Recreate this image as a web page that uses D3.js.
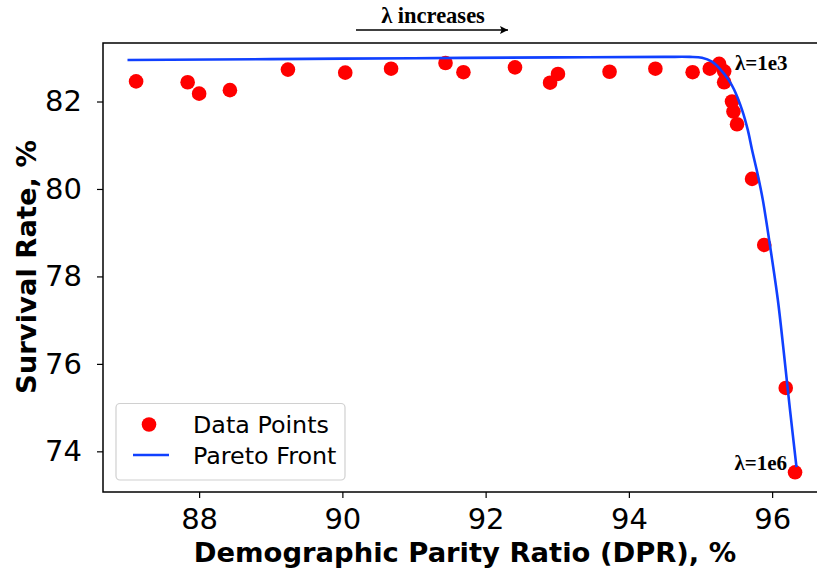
<!DOCTYPE html>
<html>
<head>
<meta charset="utf-8">
<script src="https://cdn.jsdelivr.net/npm/d3@7"></script>
<style>
  body { margin: 0; background: #fff; }
  svg { display: block; }
</style>
</head>
<body>
<div id="chart"></div>
<script>
// Data
const dprValues = [87.12, 87.84, 88.00, 88.43, 89.24, 90.04, 90.68, 91.44, 91.69, 92.41, 92.90, 93.01,
    93.73, 94.37, 94.89, 95.13, 95.26, 95.33, 95.33, 95.44, 95.46, 95.51, 95.72, 95.89, 96.19, 96.32];
const survivalValues = [82.46, 82.44, 82.18, 82.26, 82.73, 82.66, 82.75, 82.88, 82.67, 82.78, 82.43, 82.63,
    82.68, 82.75, 82.67, 82.75, 82.86, 82.69, 82.44, 82.00, 81.77, 81.48, 80.23, 78.72, 75.45, 73.52];

const paretoDpr = [87.0, 89.0, 91.0, 93.0, 94.5, 94.85, 95.02, 95.16, 95.28, 95.39, 95.47, 95.58, 95.66,
    95.72, 95.80, 95.87, 95.98, 96.08, 96.16, 96.25, 96.34];
const paretoSurvival = [82.95, 82.97, 82.99, 83.01, 83.02, 83.02, 83.0, 82.91, 82.73, 82.50, 82.27, 81.81, 81.35,
    80.89, 80.32, 79.75, 78.60, 77.46, 76.31, 74.94, 73.64];

const xTicks = [88, 90, 92, 94, 96];
const yTicks = [74, 76, 78, 80, 82];

const width = 817, height = 579;
const margin = { top: 43, right: -11, bottom: 87, left: 103 };

const svg = d3.select("#chart").append("svg")
    .attr("width", width)
    .attr("height", height)
    .style("font-family", "'DejaVu Sans', sans-serif");

const x = d3.scaleLinear()
    .domain([86.658, 96.78])
    .range([margin.left, width - margin.right]);

const y = d3.scaleLinear()
    .domain([73.07, 83.338])
    .range([height - margin.bottom, margin.top]);

// Axes
const xAxis = svg.append("g")
    .attr("transform", `translate(0,${height - margin.bottom})`)
    .call(d3.axisBottom(x).tickValues(xTicks).tickSize(6).tickPadding(6).tickSizeOuter(0));

const yAxis = svg.append("g")
    .attr("transform", `translate(${margin.left},0)`)
    .call(d3.axisLeft(y).tickValues(yTicks).tickSize(6).tickPadding(15).tickSizeOuter(0));

[xAxis, yAxis].forEach(a => {
    a.selectAll("text")
        .style("font-family", "'DejaVu Sans', sans-serif")
        .style("font-size", "29px")
        .attr("fill", "#000");
    a.selectAll("line").attr("stroke", "#000").attr("stroke-width", 1.2);
    a.select(".domain").remove();
});
xAxis.selectAll("text").attr("dy", "0.85em");

// frame (left, top, bottom; right side falls outside the picture)
svg.append("rect")
    .attr("x", margin.left)
    .attr("y", margin.top)
    .attr("width", width - margin.right - margin.left)
    .attr("height", height - margin.bottom - margin.top)
    .attr("fill", "none")
    .attr("stroke", "#000")
    .attr("stroke-width", 1.5);

// Points
svg.append("g")
    .selectAll("circle")
    .data(dprValues.map((d, i) => [d, survivalValues[i]]))
    .join("circle")
    .attr("cx", d => x(d[0]))
    .attr("cy", d => y(d[1]))
    .attr("r", 7.3)
    .attr("fill", "#ff0000");

// Pareto front
const line = d3.line()
    .x(d => x(d[0]))
    .y(d => y(d[1]))
    .curve(d3.curveCatmullRom.alpha(0.5));

svg.append("path")
    .datum(paretoDpr.map((d, i) => [d, paretoSurvival[i]]))
    .attr("d", line)
    .attr("fill", "none")
    .attr("stroke", "#1040ff")
    .attr("stroke-width", 2.6);

// Axis labels
svg.append("text")
    .attr("x", 465)
    .attr("y", 562)
    .attr("text-anchor", "middle")
    .style("font-size", "27.4px")
    .style("font-weight", "bold")
    .text("Demographic Parity Ratio (DPR), %");

svg.append("text")
    .attr("transform", "translate(36,267) rotate(-90)")
    .attr("text-anchor", "middle")
    .style("font-size", "27.4px")
    .style("font-weight", "bold")
    .text("Survival Rate, %");

// Annotations
const serif = "'Liberation Serif', 'Times New Roman', serif";

svg.append("text")
    .attr("x", 433)
    .attr("y", 23)
    .attr("text-anchor", "middle")
    .style("font-family", serif)
    .style("font-weight", "bold")
    .style("font-size", "22.5px")
    .text("λ increases");

svg.append("defs").append("marker")
    .attr("id", "arrow")
    .attr("viewBox", "0 0 10 10")
    .attr("refX", 10)
    .attr("refY", 5)
    .attr("markerWidth", 11)
    .attr("markerHeight", 8)
    .attr("markerUnits", "userSpaceOnUse")
    .attr("orient", "auto")
    .append("path")
    .attr("d", "M0,0 L10,5 L0,10 L2,5 Z")
    .attr("fill", "#000");

svg.append("line")
    .attr("x1", 356)
    .attr("x2", 508)
    .attr("y1", 30)
    .attr("y2", 30)
    .attr("stroke", "#000")
    .attr("stroke-width", 1.4)
    .attr("marker-end", "url(#arrow)");

svg.append("text")
    .attr("x", 735)
    .attr("y", 69.5)
    .style("font-family", serif)
    .style("font-weight", "bold")
    .style("font-size", "21px")
    .text("λ=1e3");

svg.append("text")
    .attr("x", 787)
    .attr("y", 470)
    .attr("text-anchor", "end")
    .style("font-family", serif)
    .style("font-weight", "bold")
    .style("font-size", "21px")
    .text("λ=1e6");

// Legend
const legend = svg.append("g");
legend.append("rect")
    .attr("x", 116)
    .attr("y", 403.5)
    .attr("width", 229)
    .attr("height", 76.5)
    .attr("rx", 4)
    .attr("fill", "#fff")
    .attr("fill-opacity", 0.8)
    .attr("stroke", "#d0d0d0")
    .attr("stroke-width", 1.2);

legend.append("circle")
    .attr("cx", 149)
    .attr("cy", 424.5)
    .attr("r", 7.3)
    .attr("fill", "#ff0000");

legend.append("line")
    .attr("x1", 133)
    .attr("x2", 169)
    .attr("y1", 455)
    .attr("y2", 455)
    .attr("stroke", "#1040ff")
    .attr("stroke-width", 2.6);

legend.selectAll("text.lab")
    .data(["Data Points", "Pareto Front"])
    .join("text")
    .attr("class", "lab")
    .attr("x", 193)
    .attr("y", (d, i) => 432.5 + i * 31)
    .style("font-size", "23.8px")
    .text(d => d);
</script>
</body>
</html>
